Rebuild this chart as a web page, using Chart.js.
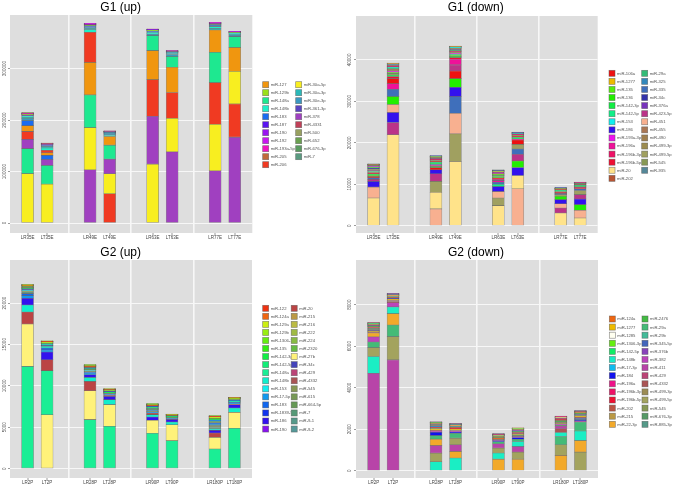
<!DOCTYPE html>
<html>
<head>
<meta charset="utf-8">
<script src="https://cdn.jsdelivr.net/npm/chart.js@4/dist/chart.umd.min.js"></script>
<style>
  body { margin: 0; background: #fff; }
  #wrap { position: relative; width: 675px; height: 485px; }
  canvas { position: absolute; }
</style>
</head>
<body>
<div id="wrap">
  <canvas id="g1up" width="340" height="245" style="left:0;top:0"></canvas>
  <canvas id="g1down" width="335" height="245" style="left:340px;top:0"></canvas>
  <canvas id="g2up" width="340" height="240" style="left:0;top:245px"></canvas>
  <canvas id="g2down" width="335" height="240" style="left:340px;top:245px"></canvas>
</div>
<script>
// ---------------- data ----------------
const g1Samples = ["LR35E", "LT35E", "LR49E", "LT49E", "LR63E", "LT63E", "LR77E", "LT77E"];
const g2Samples = ["LR2P", "LT2P", "LR28P", "LT28P", "LR90P", "LT90P", "LR180P", "LT180P"];

// G1 (up)
const g1UpMirs = ["miR-127", "miR-129b", "miR-148a", "miR-148b", "miR-183", "miR-187", "miR-190", "miR-192",
  "miR-193a-5p", "miR-205", "miR-206", "miR-30a-5p", "miR-30a-3p", "miR-30e-3p", "miR-361-3p", "miR-378",
  "miR-4331", "miR-500", "miR-652", "miR-676-3p", "miR-7"];
const g1UpColors = ["#f0960f", "#9ae01a", "#1ee890", "#1ef0c8", "#1a6cf0", "#5a14f0", "#9a14f0", "#c818f0",
  "#f014c0", "#c06a3a", "#f03a22", "#f8ee20", "#2ab8b8", "#3a98c0", "#5a44c0", "#a040c0",
  "#c04058", "#98a060", "#6aa050", "#5a9a60", "#5a9a80"];
const g1UpValues = [
  [11000, 5000, 63000, 16800, 56200, 49100, 43300, 45900],
  [500, 300, 800, 300, 600, 400, 600, 300],
  [48500, 36200, 63500, 27200, 29100, 20700, 58800, 21300],
  [2500, 4000, 4500, 2500, 2000, 1200, 3000, 1500],
  [9700, 8000, 1500, 600, 1000, 600, 1000, 500],
  [1000, 800, 500, 300, 300, 200, 400, 200],
  [500, 400, 300, 200, 200, 200, 300, 200],
  [500, 300, 300, 200, 200, 100, 200, 100],
  [400, 300, 200, 100, 200, 100, 200, 100],
  [300, 200, 200, 100, 100, 100, 200, 100],
  [15500, 5000, 58800, 56900, 71100, 49800, 80800, 64500],
  [96000, 75600, 82000, 38800, 114400, 65300, 90500, 63500],
  [3000, 3000, 3000, 1500, 2000, 2500, 3500, 2000],
  [4000, 2500, 2000, 2000, 3000, 4000, 2500, 3000],
  [1200, 800, 1000, 800, 1000, 700, 1000, 600],
  [18000, 11700, 103400, 28400, 93100, 138300, 101500, 166800],
  [500, 300, 500, 300, 400, 300, 400, 300],
  [300, 200, 400, 300, 300, 200, 300, 200],
  [300, 200, 400, 300, 300, 200, 300, 200],
  [400, 300, 600, 600, 500, 300, 400, 300],
  [400, 300, 800, 600, 800, 400, 400, 300]
];
const g1UpTicks = [0, 100000, 200000, 300000];

// G1 (down)
const g1DownMirs = ["miR-106a", "miR-1277", "miR-135", "miR-136", "miR-142-3p", "miR-142-5p", "miR-153",
  "miR-186", "miR-193a-3p", "miR-196a", "miR-196b-3p", "miR-196b-5p", "miR-20", "miR-202",
  "miR-29a", "miR-325", "miR-335", "miR-34c", "miR-376a", "miR-423-5p", "miR-451", "miR-455",
  "miR-490", "miR-499-3p", "miR-499-5p", "miR-545", "miR-935"];
const g1DownColors = ["#ee1111", "#eebb00", "#55ee11", "#22ee00", "#11ee44", "#11ee88", "#11eeee",
  "#3311ee", "#ee11ee", "#ee1199", "#ee1166", "#ee1133", "#ffe38a", "#b85533",
  "#33bb77", "#3388bb", "#3f6fbb", "#3333aa", "#7733bb", "#bb3388", "#f8b090", "#aa7755",
  "#a08050", "#9c8c50", "#a0a060", "#889955", "#558899"];
const g1DownValues = [
  [300, 1200, 500, 1850, 300, 1040, 250, 300],
  [50, 50, 50, 50, 50, 0, 0, 0],
  [100, 300, 150, 250, 150, 100, 50, 50],
  [300, 1900, 300, 2100, 300, 1600, 800, 1370],
  [300, 400, 250, 300, 250, 200, 150, 150],
  [200, 150, 200, 250, 500, 200, 150, 150],
  [100, 150, 50, 100, 50, 50, 0, 0],
  [1360, 2400, 960, 2250, 1200, 1930, 1000, 1370],
  [100, 300, 150, 250, 100, 100, 50, 50],
  [200, 1370, 300, 1370, 400, 300, 200, 250],
  [100, 150, 150, 200, 100, 100, 50, 50],
  [300, 500, 200, 400, 200, 200, 150, 150],
  [6670, 21930, 4000, 15500, 4820, 3200, 3050, 1860],
  [100, 200, 100, 150, 50, 50, 50, 50],
  [100, 200, 50, 150, 50, 50, 0, 0],
  [100, 100, 50, 100, 50, 50, 50, 50],
  [400, 1770, 300, 4000, 500, 1280, 300, 400],
  [150, 150, 100, 150, 100, 100, 50, 100],
  [50, 50, 50, 50, 50, 50, 0, 0],
  [500, 2970, 1850, 1450, 400, 1600, 1200, 1040],
  [2650, 1950, 4050, 4980, 1600, 8900, 1050, 1850],
  [50, 150, 100, 150, 50, 50, 0, 0],
  [50, 150, 100, 150, 50, 50, 0, 0],
  [300, 250, 100, 250, 150, 150, 100, 150],
  [200, 350, 2650, 6670, 1850, 1120, 400, 1000],
  [150, 100, 100, 150, 100, 100, 100, 100],
  [50, 50, 50, 50, 50, 0, 0, 0]
];
const g1DownTicks = [0, 10000, 20000, 30000, 40000];

// G2 (up)
const g2UpMirs = ["miR-122", "miR-124a", "miR-129a", "miR-129b", "miR-1306-3p", "miR-135", "miR-142-3p",
  "miR-142-5p", "miR-148a", "miR-148b", "miR-153", "miR-17-5p", "miR-183", "miR-1839-5p", "miR-186",
  "miR-190", "miR-20", "miR-215", "miR-216", "miR-222", "miR-224", "miR-2320", "miR-27b", "miR-34c",
  "miR-429", "miR-4332", "miR-545", "miR-615", "miR-664-5p", "miR-7", "miR-9-1", "miR-9-2"];
const g2UpColors = ["#ee3311", "#ee6611", "#ccee11", "#99ee11", "#66ee11", "#33ee11", "#11ee44",
  "#11ee77", "#1aee95", "#11eecc", "#11eeee", "#1199ee", "#1166ee", "#1133ee", "#3311ee",
  "#8811ee", "#bb4444", "#bb9944", "#bbbb44", "#a0bb44", "#88bb44", "#66bb44", "#fff27a", "#4444bb",
  "#bb4477", "#aa5555", "#889955", "#779955", "#669955", "#559977", "#55998a", "#559999"];
const g2UpValues = [
  [20, 10, 20, 10, 20, 10, 20, 10],
  [20, 10, 20, 10, 20, 10, 20, 10],
  [20, 20, 20, 20, 20, 10, 30, 20],
  [20, 20, 20, 20, 20, 10, 30, 20],
  [20, 20, 20, 20, 20, 10, 30, 20],
  [30, 20, 30, 20, 30, 20, 40, 20],
  [40, 30, 40, 30, 40, 20, 50, 30],
  [40, 30, 40, 30, 40, 20, 50, 30],
  [12350, 5310, 5920, 5110, 4270, 3380, 2370, 4870],
  [850, 220, 480, 600, 280, 320, 150, 520],
  [60, 40, 60, 30, 40, 20, 80, 40],
  [300, 250, 200, 80, 100, 60, 100, 80],
  [250, 230, 150, 80, 80, 60, 100, 80],
  [60, 40, 40, 30, 40, 20, 60, 30],
  [820, 930, 320, 400, 400, 320, 320, 400],
  [30, 20, 20, 20, 20, 10, 30, 20],
  [1450, 1330, 1120, 150, 200, 80, 530, 120],
  [20, 10, 20, 10, 20, 10, 20, 10],
  [20, 10, 20, 10, 20, 10, 20, 10],
  [20, 10, 20, 10, 20, 10, 20, 10],
  [20, 10, 20, 10, 20, 10, 20, 10],
  [20, 10, 20, 10, 20, 10, 20, 10],
  [5120, 6520, 3500, 2620, 1570, 1930, 1410, 1930],
  [60, 50, 40, 30, 40, 20, 60, 30],
  [30, 20, 30, 20, 30, 20, 40, 20],
  [40, 30, 40, 30, 40, 20, 50, 30],
  [150, 50, 80, 60, 100, 40, 120, 50],
  [40, 30, 50, 30, 60, 20, 100, 30],
  [40, 30, 50, 30, 60, 20, 100, 30],
  [200, 60, 80, 60, 100, 40, 150, 50],
  [50, 30, 40, 30, 60, 20, 150, 30],
  [50, 30, 40, 30, 60, 20, 120, 30]
];
const g2UpTicks = [0, 5000, 10000, 15000, 20000];

// G2 (down)
const g2DownMirs = ["miR-124a", "miR-1277", "miR-1285", "miR-1306-3p", "miR-142-5p", "miR-148b", "miR-17-3p",
  "miR-184", "miR-196a", "miR-196b-3p", "miR-196b-5p", "miR-202", "miR-215", "miR-22-3p",
  "miR-2476", "miR-29a", "miR-29b", "miR-345-5p", "miR-376b", "miR-382", "miR-411", "miR-429",
  "miR-4332", "miR-499-3p", "miR-499-5p", "miR-545", "miR-676-3p", "miR-885-3p"];
const g2DownColors = ["#ee6611", "#eebb00", "#fffff0", "#66ee11", "#11ee66", "#1aeec4", "#11bbee",
  "#1111ee", "#ee1188", "#ee1166", "#ee1133", "#bb5544", "#bb9944", "#f2a92a",
  "#44bb44", "#44bb77", "#44bb99", "#4466bb", "#8844bb", "#bb44bb", "#b844a8", "#bb4477",
  "#aa5555", "#9c8c55", "#a3a35e", "#889955", "#559966", "#559988"];
const g2DownValues = [
  [10, 10, 10, 10, 10, 10, 10, 10],
  [50, 30, 40, 30, 20, 30, 30, 30],
  [10, 10, 10, 10, 10, 10, 10, 10],
  [10, 10, 10, 10, 10, 10, 10, 10],
  [10, 10, 10, 10, 10, 10, 10, 10],
  [800, 320, 430, 610, 290, 240, 190, 450],
  [10, 10, 20, 10, 10, 30, 10, 20],
  [40, 30, 150, 50, 30, 80, 30, 50],
  [10, 10, 10, 10, 10, 10, 10, 10],
  [10, 10, 10, 10, 10, 10, 10, 10],
  [30, 50, 30, 30, 20, 30, 20, 20],
  [30, 20, 20, 20, 20, 20, 20, 20],
  [10, 10, 10, 10, 10, 10, 10, 10],
  [190, 550, 300, 320, 560, 560, 740, 560],
  [20, 20, 20, 20, 20, 20, 30, 20],
  [270, 560, 180, 240, 110, 110, 400, 440],
  [20, 20, 20, 20, 20, 20, 30, 20],
  [20, 10, 30, 20, 10, 20, 20, 40],
  [10, 10, 10, 10, 10, 20, 10, 10],
  [250, 210, 60, 40, 30, 40, 40, 30],
  [4700, 5340, 370, 320, 210, 270, 130, 60],
  [20, 10, 20, 10, 10, 20, 20, 10],
  [60, 40, 50, 40, 30, 40, 180, 40],
  [20, 20, 20, 20, 20, 20, 30, 20],
  [430, 1120, 420, 320, 240, 340, 510, 900],
  [40, 30, 40, 30, 20, 30, 40, 30],
  [40, 50, 40, 40, 30, 40, 60, 50],
  [20, 20, 20, 10, 10, 20, 20, 10]
];
const g2DownTicks = [0, 2000, 4000, 6000, 8000];

// ---------------- helpers ----------------
// two samples per time point, with a wider step between time points
function samplePos(i) {
  return Math.floor(i / 2) * 3.2 + (i % 2);
}
const separators = [2.1, 5.3, 8.5];

// stack each bar with the biggest miRNA at the bottom (as in the figure)
function floatingBars(values, nSamples) {
  const out = values.map(() => new Array(nSamples).fill(null));
  for (let s = 0; s < nSamples; s++) {
    const order = values.map((row, k) => k).filter(k => values[k][s] > 0);
    order.sort((a, b) => (values[b][s] - values[a][s]) || (a - b));
    let base = 0;
    order.forEach(k => {
      out[k][s] = [base, base + values[k][s]];
      base += values[k][s];
    });
  }
  return out;
}

const panelDecor = {
  id: 'panelDecor',
  beforeDraw(chart, args, opts) {
    const {ctx, chartArea: a} = chart;
    ctx.save();
    ctx.fillStyle = '#dedede';
    ctx.fillRect(a.left, a.top, a.right - a.left, a.bottom - a.top);
    ctx.restore();
  },
  afterDraw(chart, args, opts) {
    const {ctx} = chart;
    const y = chart.scales.y;
    ctx.save();
    // title
    ctx.fillStyle = '#000';
    ctx.font = '12px "Liberation Sans", Arial, sans-serif';
    ctx.textAlign = 'center';
    ctx.textBaseline = 'middle';
    ctx.fillText(opts.title, opts.titleX, 7.5);
    // rotated y tick labels
    ctx.fillStyle = '#555';
    ctx.font = '4.6px "Liberation Sans", Arial, sans-serif';
    opts.yTicks.forEach(v => {
      ctx.save();
      ctx.translate(opts.yLabelX, y.getPixelForValue(v));
      ctx.rotate(-Math.PI / 2);
      ctx.fillText(String(v), 0, 0);
      ctx.restore();
    });
    // legend, two columns
    const ds = chart.data.datasets;
    const rows = Math.ceil(ds.length / 2);
    ctx.font = '4.2px "Liberation Sans", Arial, sans-serif';
    ctx.textAlign = 'left';
    ds.forEach((d, i) => {
      const col = Math.floor(i / rows), row = i % rows;
      const bx = opts.legendX + col * opts.legendColW;
      const by = opts.legendY + row * opts.legendRowH;
      ctx.fillStyle = '#f2f2f2';
      ctx.fillRect(bx - 0.5, by - 3.5, 7, 7);
      ctx.fillStyle = d.backgroundColor;
      ctx.fillRect(bx, by - 3, 6, 6);
      ctx.strokeStyle = 'rgba(90,90,90,0.7)';
      ctx.lineWidth = 0.6;
      ctx.strokeRect(bx, by - 3, 6, 6);
      ctx.fillStyle = '#555';
      ctx.fillText(d.label, bx + 8, by + 0.3);
    });
    ctx.restore();
  }
};

function makePanel(canvasId, p) {
  const barPos = p.samples.map((s, i) => samplePos(i));
  const xTicks = barPos.concat(separators).sort((a, b) => a - b);
  const bars = floatingBars(p.values, p.samples.length);
  const isSep = v => separators.includes(v);

  return new Chart(document.getElementById(canvasId), {
    type: 'bar',
    data: {
      labels: barPos,
      datasets: p.mirs.map((m, k) => ({
        label: m,
        data: bars[k],
        backgroundColor: p.colors[k],
        borderColor: 'rgba(70,70,70,0.55)',
        borderWidth: 0.6,
        borderSkipped: false,
        barThickness: 12,
        grouped: false
      }))
    },
    options: {
      responsive: false,
      animation: false,
      layout: {autoPadding: false, padding: {left: 0, top: p.top, right: p.padRight, bottom: p.padBottom}},
      plugins: {
        legend: {display: false},
        tooltip: {enabled: false},
        panelDecor: {
          title: p.title, titleX: p.titleX, yTicks: p.yTicks, yLabelX: p.yLabelX,
          legendX: p.legendX, legendY: p.legendY, legendColW: p.legendColW, legendRowH: p.legendRowH
        }
      },
      scales: {
        x: {
          type: 'linear',
          offset: false,
          min: -0.9,
          max: 11.5,
          afterBuildTicks: s => { s.ticks = xTicks.map(v => ({value: v})); },
          afterFit: s => { s.height = p.xAxisH; },
          border: {display: false},
          grid: {
            offset: false,
            color: c => (c.tick && isSep(c.tick.value)) ? '#f7f7f7' : 'rgba(0,0,0,0)',
            lineWidth: c => (c.tick && isSep(c.tick.value)) ? 1.6 : 0,
            tickColor: c => (c.tick && isSep(c.tick.value)) ? 'rgba(0,0,0,0)' : '#555',
            tickLength: 2,
            tickWidth: 0.6
          },
          ticks: {
            autoSkip: false,
            maxRotation: 0,
            minRotation: 0,
            padding: 0,
            color: '#444',
            font: {size: 4.5, family: '"Liberation Sans", Arial, sans-serif'},
            callback: v => {
              const i = barPos.indexOf(v);
              return i >= 0 ? p.samples[i] : '';
            }
          }
        },
        y: {
          min: p.yMin,
          max: p.yMax,
          afterBuildTicks: s => { s.ticks = p.yTicks.map(v => ({value: v})); },
          afterFit: s => { s.width = p.yAxisW; },
          border: {display: false},
          grid: {color: '#f7f7f7', lineWidth: 1, tickColor: '#555', tickLength: 2, tickWidth: 0.6},
          ticks: {display: false}
        }
      }
    },
    plugins: [panelDecor]
  });
}

makePanel('g1up', {
  title: 'G1 (up)', titleX: 120.7, samples: g1Samples, mirs: g1UpMirs, colors: g1UpColors, values: g1UpValues,
  yTicks: g1UpTicks, yMin: -19400, yMax: 404000, top: 15, padRight: 87.7, padBottom: 2, xAxisH: 10,
  yAxisW: 10, yLabelX: 4.5, legendX: 262.7, legendY: 84.7, legendColW: 33, legendRowH: 8
});
makePanel('g1down', {
  title: 'G1 (down)', titleX: 135.7, samples: g1Samples, mirs: g1DownMirs, colors: g1DownColors, values: g1DownValues,
  yTicks: g1DownTicks, yMin: -1770, yMax: 50600, top: 16, padRight: 77.3, padBottom: 2, xAxisH: 10,
  yAxisW: 16, yLabelX: 10, legendX: 269, legendY: 73.3, legendColW: 32.7, legendRowH: 8.08
});
makePanel('g2up', {
  title: 'G2 (up)', titleX: 120.7, samples: g2Samples, mirs: g2UpMirs, colors: g2UpColors, values: g2UpValues,
  yTicks: g2UpTicks, yMin: -1130, yMax: 25200, top: 15, padRight: 88, padBottom: 0, xAxisH: 7,
  yAxisW: 10, yLabelX: 4.5, legendX: 262.7, legendY: 63.3, legendColW: 28.5, legendRowH: 8.05
});
makePanel('g2down', {
  title: 'G2 (down)', titleX: 136, samples: g2Samples, mirs: g2DownMirs, colors: g2DownColors, values: g2DownValues,
  yTicks: g2DownTicks, yMin: -350, yMax: 10150, top: 15, padRight: 77, padBottom: 0, xAxisH: 7,
  yAxisW: 16, yLabelX: 10, legendX: 269.3, legendY: 74, legendColW: 32.7, legendRowH: 8.1
});
</script>
</body>
</html>
